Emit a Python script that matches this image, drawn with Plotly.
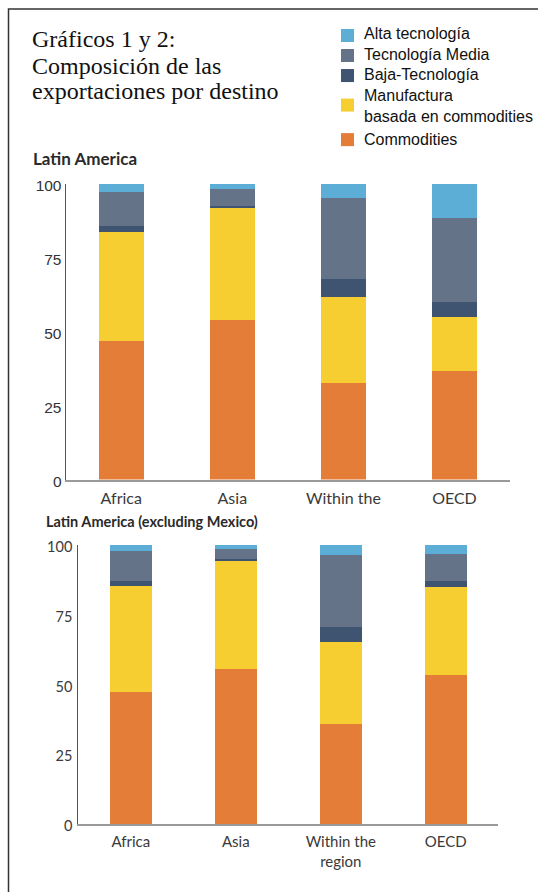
import plotly.graph_objects as go

W, H = 538, 892

# Destinations (category keys) and their axis labels
destinations = ["Africa", "Asia", "Within the region", "OECD"]
labels_top = ["Africa", "Asia", "Within the", "OECD"]
labels_bottom = ["Africa", "Asia", "Within the<br>region", "OECD"]
y_ticks = [0, 25, 50, 75, 100]

# Chart 1: Latin America (% of exports)
la_commodities = [46.8, 53.8, 32.8, 36.6]
la_manuf = [36.8, 38.3, 29.1, 18.4]
la_baja = [2.0, 0.4, 5.8, 5.0]
la_media = [11.7, 5.7, 27.5, 28.3]
la_alta = [2.7, 1.8, 4.8, 11.7]

# Chart 2: Latin America excluding Mexico (% of exports)
ex_commodities = [47.3, 55.6, 35.7, 53.3]
ex_manuf = [37.8, 38.8, 29.5, 31.4]
ex_baja = [1.9, 0.6, 5.3, 2.3]
ex_media = [10.6, 3.5, 25.8, 9.5]
ex_alta = [2.4, 1.5, 3.7, 3.5]

series_names = ["Commodities", "Manufactura<br>basada en commodities",
                "Baja-Tecnología", "Tecnología Media", "Alta tecnología"]
colors = ["#E37D38", "#F6CE32", "#3E5471", "#647387", "#5CAED6"]

# Viewport correction: the page is displayed with a small vertical offset and scale
V_OFF, V_SCALE = 9.04, 0.9797


def px(x):
    return x / W


def py(y):
    """Screen row (px from top) -> paper y coordinate."""
    return 1 - ((y - V_OFF) / V_SCALE) / H


fig = go.Figure()

top_series = [la_commodities, la_manuf, la_baja, la_media, la_alta]
bottom_series = [ex_commodities, ex_manuf, ex_baja, ex_media, ex_alta]

for name, color, vals in zip(series_names, colors, top_series):
    fig.add_trace(go.Bar(x=destinations, y=vals, name=name, marker_color=color,
                         marker_line_width=0, width=0.405, showlegend=False,
                         xaxis="x", yaxis="y"))
for name, color, vals in zip(series_names, colors, bottom_series):
    fig.add_trace(go.Bar(x=destinations, y=vals, name=name, marker_color=color,
                         marker_line_width=0, width=0.405, showlegend=False,
                         xaxis="x2", yaxis="y2"))

common_x = dict(type="category", categoryorder="array", categoryarray=destinations,
                range=[-0.5, 3.5], showgrid=False, zeroline=False, showline=True,
                linecolor="#9a9a9a", linewidth=2, ticks="", tickmode="array",
                tickvals=destinations, ticklabelstandoff=3, fixedrange=True)
common_y = dict(range=[0, 100], showgrid=False, zeroline=False, showline=True,
                linecolor="#555555", linewidth=1.2, ticks="", tickmode="array",
                tickvals=y_ticks, ticklabelshift=2, fixedrange=True)

fig.update_layout(
    width=W, height=H,
    margin=dict(l=0, r=0, t=0, b=0),
    paper_bgcolor="white", plot_bgcolor="white",
    barmode="stack",
    showlegend=False,
    xaxis=dict(common_x, domain=[px(65.7), px(510)], anchor="y",
               ticktext=labels_top,
               tickfont=dict(family="Lato", size=16, color="#3a3a3a")),
    yaxis=dict(common_y, domain=[py(481), py(185.7)], anchor="x",
               tickfont=dict(family="Liberation Sans", size=15.5, color="#333333")),
    xaxis2=dict(common_x, domain=[px(78.3), px(498.3)], anchor="y2",
                ticktext=labels_bottom,
                tickfont=dict(family="Lato", size=15, color="#3a3a3a")),
    yaxis2=dict(common_y, domain=[py(825.3), py(546)], anchor="x2",
                ticklabelstandoff=2,
                tickfont=dict(family="Lato", size=14.5, color="#3a3a3a")),
)

annotations = []

# Title block
title_lines = [("Gráficos 1 y 2:", 40.9), ("Composición de las", 67.6),
               ("exportaciones por destino", 92.6)]
for text, yc in title_lines:
    annotations.append(dict(text=text, x=px(30), y=py(yc), xref="paper", yref="paper",
                            xanchor="left", yanchor="middle", showarrow=False,
                            font=dict(family="Liberation Serif", size=24, color="#111111")))

# Legend (drawn manually, top to bottom)
legend_rows = [
    ("Alta tecnología", colors[4], 35.7, (31, 44)),
    ("Tecnología Media", colors[3], 56.4, (51, 64)),
    ("Baja-Tecnología", colors[2], 76.4, (71, 84)),
    ("Manufactura", colors[1], 97.0, (100.5, 113.5)),
    ("basada en commodities", None, 118.7, None),
    ("Commodities", colors[0], 141.4, (135, 148)),
]
shapes = []
for text, color, yc, box in legend_rows:
    annotations.append(dict(text=text, x=px(362), y=py(yc), xref="paper", yref="paper",
                            xanchor="left", yanchor="middle", showarrow=False,
                            font=dict(family="Liberation Sans", size=16, color="#111111")))
    if box is not None:
        shapes.append(dict(type="rect", xref="paper", yref="paper",
                           x0=px(341), x1=px(354), y0=py(box[1]), y1=py(box[0]),
                           fillcolor=color, line_width=0))

# Panel subtitles
annotations.append(dict(text="<b>Latin America</b>", x=px(30.5), y=py(160.7),
                        xref="paper", yref="paper", xanchor="left", yanchor="middle",
                        showarrow=False,
                        font=dict(family="Lato", size=17, color="#2a2a2a")))
annotations.append(dict(text="<b>Latin America (excluding Mexico)</b>", x=px(44),
                        y=py(523.3), xref="paper", yref="paper", xanchor="left",
                        yanchor="middle", showarrow=False,
                        font=dict(family="Lato", size=14.5, color="#2a2a2a")))

# Outer frame
shapes.append(dict(type="rect", xref="paper", yref="paper",
                   x0=px(8.5), x1=px(560), y0=-0.05, y1=py(11),
                   line=dict(color="#333333", width=1.5), fillcolor="rgba(0,0,0,0)"))

fig.update_layout(annotations=annotations, shapes=shapes)

fig.write_html("out.html")
